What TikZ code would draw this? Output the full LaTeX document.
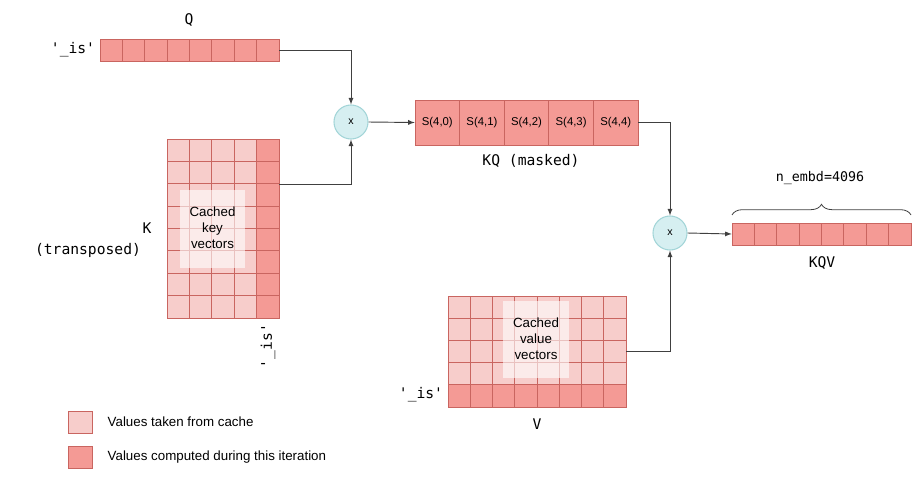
\documentclass[tikz,border=0pt]{standalone}
\usepackage{fontspec}
\setmainfont{Liberation Sans}
\setmonofont{DejaVu Sans Mono}
\usetikzlibrary{decorations.pathreplacing}
\definecolor{dark}{HTML}{F49A95}
\definecolor{light}{HTML}{F7CDCB}
\definecolor{edge}{HTML}{C96560}
\definecolor{cfill}{HTML}{D6EFF1}
\definecolor{cedge}{HTML}{A3D5D8}
\begin{document}
\begin{tikzpicture}[x=0.75pt,y=-0.75pt,
  dcell/.style={fill=dark,draw=edge,line width=0.6pt},
  lcell/.style={fill=light,draw=edge,line width=0.6pt},
  mono/.style={font=\ttfamily\fontsize{11}{13}\selectfont},
  sans/.style={font=\fontsize{10}{12}\selectfont},
  mul/.style={circle,fill=cfill,draw=cedge,line width=0.8pt,minimum size=34*0.75pt,inner sep=0pt,font=\fontsize{8}{9}\selectfont},
  box/.style={inner sep=0pt,minimum width=#1},
  arr/.style={-latex,draw=black!75,line width=0.7pt},
  over/.style={fill=white,fill opacity=0.6}]
\useasboundingbox (0,0) rectangle (917,479);
% Q
\foreach \i in {0,...,7}{\draw[dcell] (100+\i*22.375,39) rectangle ++(22.375,22);}
\node[box,minimum width=179*0.75pt,minimum height=22*0.75pt] (Q) at (189.5,50) {};
\node[mono] (Ql) at (189,20) {Q};
\node[mono] (Qis) at (73,50) {'\_is'};
% K
\foreach \c in {0,...,4}{\foreach \r in {0,...,7}{
  \ifnum\c=4 \draw[dcell] (167+\c*22.4,139+\r*22.375) rectangle ++(22.4,22.375);
  \else \draw[lcell] (167+\c*22.4,139+\r*22.375) rectangle ++(22.4,22.375);\fi}}
\fill[over] (180,190) rectangle (245,268);
\node[sans,align=center] (Kt) at (212.5,228) {Cached\\key\\vectors};
\node[box,minimum width=112*0.75pt,minimum height=179*0.75pt] (K) at (223,228.5) {};
\node[mono] (Kl) at (147,228) {K};
\node[mono] (Ktr) at (88,250) {(transposed)};
\node[mono,rotate=90] (Kis) at (268,346) {'\_is'};
% mul 1
\node[mul] (m1) at (351,122) {x};
\draw[arr] (Q.east) -| (m1.north);
\draw[arr] (279,184) -| (m1.south);
% KQ
\foreach \i/\t in {0/{S(4,0)},1/{S(4,1)},2/{S(4,2)},3/{S(4,3)},4/{S(4,4)}}{
  \draw[dcell] (415+\i*44.6,100) rectangle ++(44.6,45);
  \node[font=\fontsize{8.5}{10}\selectfont] at (437.3+\i*44.6,122.5) {\t};}
\node[box,minimum width=223*0.75pt,minimum height=45*0.75pt] (KQ) at (526.5,122.5) {};
\node[mono] (KQl) at (531,161) {KQ (masked)};
\draw[arr] (m1.east) -- (KQ.west);
% mul 2
\node[mul] (m2) at (670,233) {x};
\draw[arr] (KQ.east) -| (m2.north);
% KQV
\foreach \i in {0,...,7}{\draw[dcell] (732+\i*22.375,223) rectangle ++(22.375,22);}
\node[box,minimum width=179*0.75pt,minimum height=22*0.75pt] (KQV) at (821.5,234) {};
\draw[arr] (m2.east) -- (KQV.west);
\draw[draw=black!75,line width=0.6pt,decorate,decoration={brace,amplitude=8pt}] (732,215) -- (911,215);
\node[font=\ttfamily\fontsize{10}{12}\selectfont] (ne) at (820,178) {n\_embd=4096};
\node[mono] (KQVl) at (822,263) {KQV};
% V
\foreach \c in {0,...,7}{\foreach \r in {0,...,4}{
  \ifnum\r=4 \draw[dcell] (448+\c*22.25,296+\r*22.2) rectangle ++(22.25,22.2);
  \else \draw[lcell] (448+\c*22.25,296+\r*22.2) rectangle ++(22.25,22.2);\fi}}
\fill[over] (503,301) rectangle (569,378);
\node[sans,align=center] (Vt) at (536,339) {Cached\\value\\vectors};
\node[box,minimum width=178*0.75pt,minimum height=111*0.75pt] (V) at (537,351.5) {};
\draw[arr] (V.east) -| (m2.south);
\node[mono] (Vl) at (537,424) {V};
\node[mono] (Vis) at (421,395) {'\_is'};
% legend
\draw[lcell] (68,411) rectangle (92,433);
\node[sans,anchor=west] (L1) at (103,422) {Values taken from cache};
\draw[dcell] (68,446) rectangle (92,468);
\node[sans,anchor=west] (L2) at (103,457) {Values computed during this iteration};
\end{tikzpicture}
\end{document}
